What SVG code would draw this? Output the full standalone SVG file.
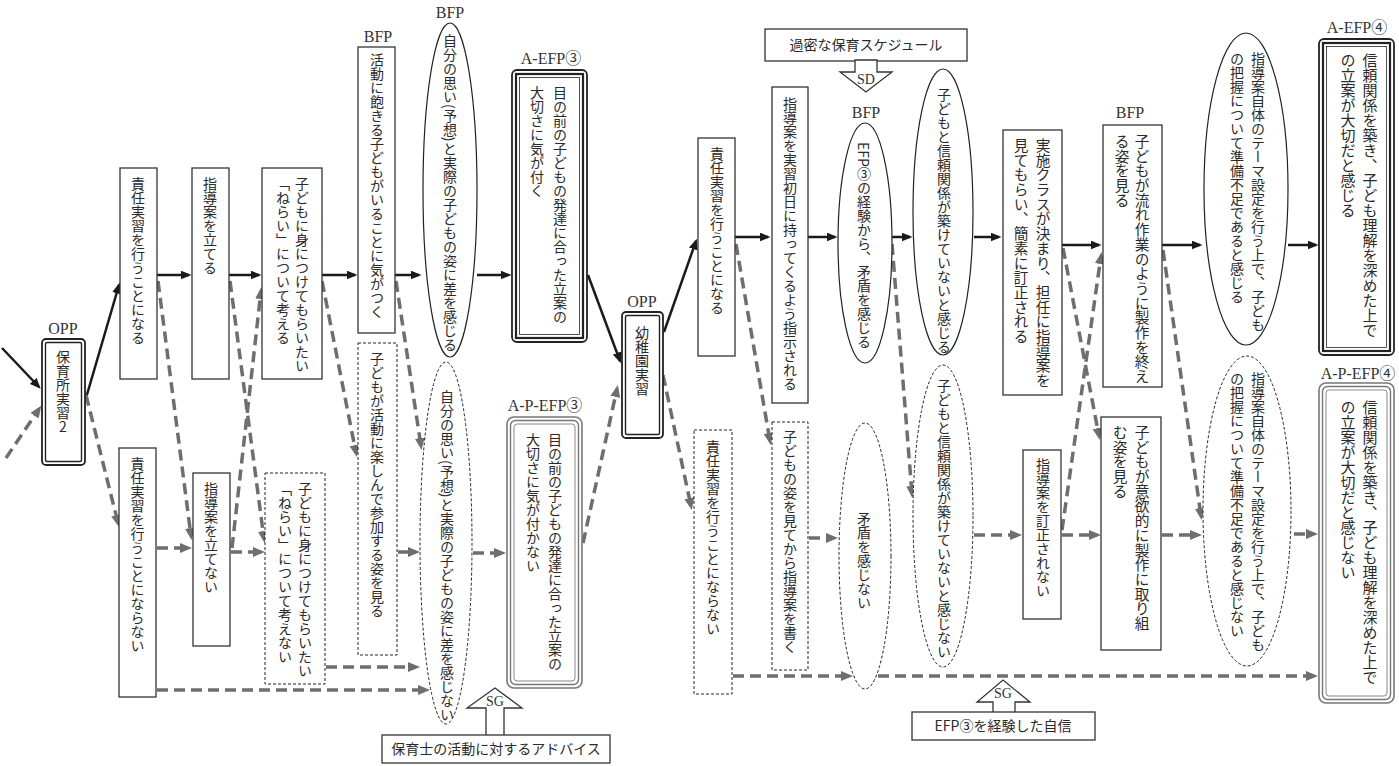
<svg xmlns="http://www.w3.org/2000/svg" width="1399" height="766" viewBox="0 0 1399 766">
  <defs>
    <marker id="ah" markerUnits="userSpaceOnUse" markerWidth="11" markerHeight="9" refX="8.5" refY="4.5" orient="auto">
      <path d="M0,0 L11,4.5 L0,9 z" fill="#1a1a1a"/>
    </marker>
    <marker id="ahg" markerUnits="userSpaceOnUse" markerWidth="12" markerHeight="10" refX="8" refY="5" orient="auto">
      <path d="M0,0 L12,5 L0,10 z" fill="#6e6e6e"/>
    </marker>
    <style>
      .bx { fill: #fff; stroke: #333; stroke-width: 1.3; }
      .dbx { fill: #fff; stroke: #222; stroke-width: 1; stroke-dasharray: 3 2; }
      .el { fill: #fff; stroke: #222; stroke-width: 1.2; }
      .del { fill: #fff; stroke: #222; stroke-width: 1; stroke-dasharray: 3 2; }
      .o1 { fill: #fff; stroke: #222; stroke-width: 1.8; }
      .o2 { fill: none; stroke: #222; stroke-width: 1.4; }
      .k1 { fill: #fff; stroke: #222; stroke-width: 1.8; }
      .k2 { fill: none; stroke: #222; stroke-width: 2.2; }
      .k3 { fill: none; stroke: #222; stroke-width: 0.8; }
      .g1 { fill: #fff; stroke: #777; stroke-width: 1.6; }
      .g2 { fill: none; stroke: #777; stroke-width: 1.4; }
      .g3 { fill: none; stroke: #888; stroke-width: 1; }
      .sol { fill: none; stroke: #1a1a1a; stroke-width: 2.5; marker-end: url(#ah); }
      .dsh { fill: none; stroke: #6e6e6e; stroke-width: 3.5; stroke-dasharray: 11 6; marker-end: url(#ahg); }
      .v { writing-mode: vertical-rl; font-family: "Noto Sans CJK JP", sans-serif; font-size: 14px; fill: #2a2a2a; }
      .v15 { font-size: 14.7px; }
      .v16 { font-size: 15px; }
      .h { font-family: "Noto Sans CJK JP", sans-serif; font-size: 14px; fill: #2a2a2a; text-anchor: middle; }
      .lab { font-family: "Liberation Serif", "Noto Sans CJK JP", serif; font-size: 16px; font-weight: normal; fill: #333; text-anchor: middle; }
      .sg { font-family: "Liberation Serif", serif; font-size: 14px; fill: #333; text-anchor: middle; }
      .up { text-orientation: upright; }
    </style>
  </defs>

  <rect width="1399" height="766" fill="#fff"/>

  <!-- connectors -->
  <g id="connectors">
    <!-- solid: main path -->
    <path class="sol" d="M2,348 L39,387"/>
    <path class="sol" d="M86,398 L119,285"/>
    <path class="sol" d="M157,275 H189"/>
    <path class="sol" d="M229,275 H259"/>
    <path class="sol" d="M322,275 H355"/>
    <path class="sol" d="M395,275 H419"/>
    <path class="sol" d="M477,275 H509"/>
    <path class="sol" d="M588,275 L620,361"/>
    <path class="sol" d="M664,332 L696,241"/>
    <path class="sol" d="M735,237 H768"/>
    <path class="sol" d="M808,237 H835"/>
    <path class="sol" d="M891,237 H910"/>
    <path class="sol" d="M974,237 H999"/>
    <path class="sol" d="M1062,245 H1099"/>
    <path class="sol" d="M1162,245 H1200"/>
    <path class="sol" d="M1288,245 H1316"/>
    <!-- dashed: alternative path -->
    <path class="dsh" d="M6,458 L39,409"/>
    <path class="dsh" d="M86,395 L118,523"/>
    <path class="dsh" d="M158,281 L191,536"/>
    <path class="dsh" d="M157,548 H188"/>
    <path class="dsh" d="M230,281 L264,539"/>
    <path class="dsh" d="M232,548 L261,291"/>
    <path class="dsh" d="M231,552 H261"/>
    <path class="dsh" d="M322,281 L356,453"/>
    <path class="dsh" d="M396,281 L421,446"/>
    <path class="dsh" d="M326,667 H416"/>
    <path class="dsh" d="M157,690 H426"/>
    <path class="dsh" d="M398,552 H416"/>
    <path class="dsh" d="M473,553 H502"/>
    <path class="dsh" d="M583,543 L617,389"/>
    <path class="dsh" d="M663,375 L691,506"/>
    <path class="dsh" d="M736,244 L770,441"/>
    <path class="dsh" d="M809,538 H834"/>
    <path class="dsh" d="M892,244 L912,494"/>
    <path class="dsh" d="M974,535 H1018"/>
    <path class="dsh" d="M733,676 H849"/>
    <path class="dsh" d="M878,676 H1314"/>
    <path class="dsh" d="M1063,248 L1099,436"/>
    <path class="dsh" d="M1062,530 L1101,256"/>
    <path class="dsh" d="M1062,535 H1097"/>
    <path class="dsh" d="M1163,250 L1201,516"/>
    <path class="dsh" d="M1162,535 H1198"/>
    <path class="dsh" d="M1294,534 H1314"/>
  </g>

  <!-- OPP: nursery practicum -->
  <g id="opp1">
    <text class="lab" x="63" y="334">OPP</text>
    <rect class="o1" x="42" y="339" width="43" height="126" rx="4"/>
    <rect class="o2" x="45.5" y="342.5" width="36" height="119" rx="1.5"/>
    <text class="v" x="63" y="350">保育所実習<tspan class="up">2</tspan></text>
  </g>

  <g id="n-sekinin1">
    <rect class="bx" x="120" y="168" width="37" height="211"/>
    <text class="v" x="138" y="177">責任実習を行うことになる</text>
  </g>
  <g id="n-shido1">
    <rect class="bx" x="192" y="168" width="37" height="211"/>
    <text class="v" x="210" y="177">指導案を立てる</text>
  </g>
  <g id="n-nerai1">
    <rect class="bx" x="262" y="168" width="60" height="211"/>
    <text class="v" x="302" y="177">子どもに身につけてもらいたい</text>
    <text class="v" x="283" y="177">「ねらい」について考える</text>
  </g>
  <g id="n-akiru">
    <text class="lab" x="378" y="42">BFP</text>
    <rect class="bx" x="358" y="47" width="37" height="286"/>
    <text class="v" x="377" y="53">活動に飽きる子どもがいることに気がつく</text>
  </g>
  <g id="n-sa1">
    <text class="lab" x="450" y="18">BFP</text>
    <ellipse class="el" cx="450" cy="190" rx="27" ry="167"/>
    <text class="v" x="450" y="34">自分の思い(予想)と実際の子どもの姿に差を感じる</text>
  </g>
  <g id="n-aefp3">
    <text class="lab" x="551" y="64">A-EFP③</text>
    <rect class="k1" x="512" y="70" width="75" height="272" rx="5"/>
    <rect class="k2" x="516" y="74" width="67" height="264"/>
    <rect class="k3" x="519.5" y="77.5" width="60" height="257"/>
    <text class="v" x="560" y="86">目の前の子どもの発達に合った立案の</text>
    <text class="v" x="537" y="86">大切さに気が付く</text>
  </g>

  <g id="n-sekinin1n">
    <rect class="bx" x="119" y="448" width="37" height="249"/>
    <text class="v" x="137.5" y="457">責任実習を行うことにならない</text>
  </g>
  <g id="n-shido1n">
    <rect class="bx" x="193" y="473" width="37" height="173"/>
    <text class="v" x="211" y="482">指導案を立てない</text>
  </g>
  <g id="n-nerai1n">
    <rect class="dbx" x="265" y="473" width="60" height="211"/>
    <text class="v" x="305" y="482">子どもに身につけてもらいたい</text>
    <text class="v" x="285" y="482">「ねらい」について考えない</text>
  </g>
  <g id="n-tanoshimu">
    <rect class="dbx" x="358" y="343" width="39" height="312"/>
    <text class="v" x="377" y="352">子どもが活動に楽しんで参加する姿を見る</text>
  </g>
  <g id="n-sa1n">
    <ellipse class="del" cx="446" cy="543" rx="26" ry="181"/>
    <text class="v" x="447" y="390">自分の思い(予想)と実際の子どもの姿に差を感じない</text>
  </g>
  <g id="n-apefp3">
    <text class="lab" x="545" y="411">A-P-EFP③</text>
    <rect class="g1" x="507" y="417" width="75" height="271" rx="7"/>
    <rect class="g2" x="510.5" y="420.5" width="68" height="264" rx="5"/>
    <rect class="g3" x="514" y="424" width="61" height="257" rx="3"/>
    <text class="v" x="555" y="433">目の前の子どもの発達に合った立案の</text>
    <text class="v" x="533" y="433">大切さに気が付かない</text>
  </g>

  <!-- SG: advice from nursery teacher -->
  <g id="sg1">
    <polygon class="bx" points="486,736 486,708 467,708 495,688 522,708 504,708 504,736"/>
    <text class="sg" x="495" y="706">SG</text>
    <rect class="bx" x="382" y="735" width="228" height="28"/>
    <text class="h" x="496" y="754">保育士の活動に対するアドバイス</text>
  </g>

  <!-- OPP: kindergarten practicum -->
  <g id="opp2">
    <text class="lab" x="642" y="307">OPP</text>
    <rect class="o1" x="622" y="312" width="41" height="126" rx="4"/>
    <rect class="o2" x="625.5" y="315.5" width="34" height="119" rx="1.5"/>
    <text class="v" x="642" y="326">幼稚園実習</text>
  </g>

  <!-- SD: overloaded schedule -->
  <g id="sd">
    <rect class="bx" x="765" y="29" width="202" height="32"/>
    <text class="h" x="866" y="50">過密な保育スケジュール</text>
    <polygon class="bx" points="855,60 855,72 840,72 866,92 892,72 877,72 877,60"/>
    <text class="sg" x="866" y="84">SD</text>
  </g>

  <g id="n-sekinin2">
    <rect class="bx" x="698" y="138" width="37" height="218"/>
    <text class="v" x="717" y="147">責任実習を行うことになる</text>
  </g>
  <g id="n-shoniti">
    <rect class="bx" x="772" y="87" width="36" height="316"/>
    <text class="v" x="790" y="97">指導案を実習初日に持ってくるよう指示される</text>
  </g>
  <g id="n-mujun">
    <text class="lab" x="866" y="118">BFP</text>
    <ellipse class="el" cx="865" cy="243" rx="27" ry="120"/>
    <text class="v" x="864" y="142">EFP③の経験から、矛盾を感じる</text>
  </g>
  <g id="n-shinrai">
    <ellipse class="el" cx="943" cy="212" rx="30" ry="143"/>
    <text class="v" x="944" y="88">子どもと信頼関係が築けていないと感じる</text>
  </g>
  <g id="n-teisei">
    <rect class="bx" x="1003" y="130" width="59" height="265"/>
    <text class="v v15" x="1043" y="138">実施クラスが決まり、担任に指導案を</text>
    <text class="v v15" x="1021" y="138">見てもらい、簡素に訂正される</text>
  </g>
  <g id="n-nagare">
    <text class="lab" x="1130" y="118">BFP</text>
    <rect class="bx" x="1103" y="125" width="59" height="262"/>
    <text class="v v15" x="1142" y="134">子どもが流れ作業のように製作を終え</text>
    <text class="v v15" x="1122" y="134">る姿を見る</text>
  </g>
  <g id="n-junbi">
    <ellipse class="el" cx="1246" cy="189" rx="42" ry="156"/>
    <text class="v" x="1258" y="52">指導案自体のテーマ設定を行う上で、子ども</text>
    <text class="v" x="1237" y="52">の把握について準備不足であると感じる</text>
  </g>
  <g id="n-aefp4">
    <text class="lab" x="1357" y="33">A-EFP④</text>
    <rect class="k1" x="1319" y="39" width="75" height="316" rx="5"/>
    <rect class="k2" x="1323" y="43" width="67" height="308"/>
    <rect class="k3" x="1326.5" y="46.5" width="60" height="301"/>
    <text class="v v16" x="1370" y="53">信頼関係を築き、子ども理解を深めた上で</text>
    <text class="v v16" x="1348" y="53">の立案が大切だと感じる</text>
  </g>

  <g id="n-sekinin2n">
    <rect class="dbx" x="694" y="430" width="38" height="264"/>
    <text class="v" x="713" y="440">責任実習を行うことにならない</text>
  </g>
  <g id="n-sugata">
    <rect class="dbx" x="772" y="422" width="36" height="248"/>
    <text class="v" x="790" y="430">子どもの姿を見てから指導案を書く</text>
  </g>
  <g id="n-mujun-n">
    <ellipse class="del" cx="865" cy="556" rx="26" ry="133"/>
    <text class="v" x="864" y="512">矛盾を感じない</text>
  </g>
  <g id="n-shinrai-n">
    <ellipse class="del" cx="943" cy="516" rx="30" ry="151"/>
    <text class="v" x="944" y="379">子どもと信頼関係が築けていないと感じない</text>
  </g>
  <g id="n-teisei-n">
    <rect class="bx" x="1023" y="450" width="38" height="169"/>
    <text class="v" x="1043" y="458">指導案を訂正されない</text>
  </g>
  <g id="n-iyoku">
    <rect class="bx" x="1101" y="417" width="60" height="233"/>
    <text class="v v15" x="1142" y="425">子どもが意欲的に製作に取り組</text>
    <text class="v v15" x="1120" y="425">む姿を見る</text>
  </g>
  <g id="n-junbi-n">
    <ellipse class="del" cx="1247" cy="511" rx="44" ry="155"/>
    <text class="v" x="1258" y="372">指導案自体のテーマ設定を行う上で、子ども</text>
    <text class="v" x="1237" y="372">の把握について準備不足であると感じない</text>
  </g>
  <g id="n-apefp4">
    <text class="lab" x="1358" y="379">A-P-EFP④</text>
    <rect class="g1" x="1319" y="383" width="75" height="320" rx="7"/>
    <rect class="g2" x="1322.5" y="386.5" width="68" height="313" rx="5"/>
    <rect class="g3" x="1326" y="390" width="61" height="306" rx="3"/>
    <text class="v v16" x="1370" y="400">信頼関係を築き、子ども理解を深めた上で</text>
    <text class="v v16" x="1348" y="400">の立案が大切だと感じない</text>
  </g>

  <!-- SG: confidence from EFP3 -->
  <g id="sg2">
    <polygon class="bx" points="993,713 993,702 977,702 1003,680 1030,702 1015,702 1015,713"/>
    <text class="sg" x="1003" y="698">SG</text>
    <rect class="bx" x="912" y="712" width="183" height="28"/>
    <text class="h" x="1003" y="731">EFP③を経験した自信</text>
  </g>
</svg>
